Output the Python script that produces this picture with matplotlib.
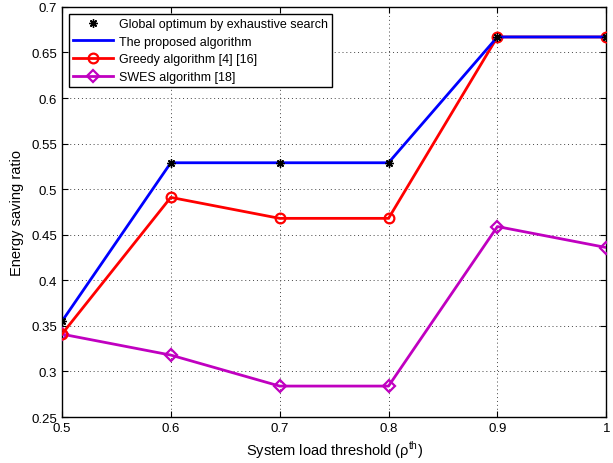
import matplotlib
matplotlib.use("Agg")
import matplotlib.pyplot as plt

# System load threshold values
thresholds = [0.5, 0.6, 0.7, 0.8, 0.9, 1.0]

# Energy saving ratios per scheme
global_optimum = [0.355, 0.529, 0.529, 0.529, 0.667, 0.667]
proposed = [0.355, 0.529, 0.529, 0.529, 0.667, 0.667]
greedy = [0.341, 0.491, 0.468, 0.468, 0.667, 0.667]
swes = [0.341, 0.318, 0.284, 0.284, 0.459, 0.436]

x_ticks = [0.5, 0.6, 0.7, 0.8, 0.9, 1.0]
x_tick_labels = ["0.5", "0.6", "0.7", "0.8", "0.9", "1"]
y_ticks = [0.25, 0.3, 0.35, 0.4, 0.45, 0.5, 0.55, 0.6, 0.65, 0.7]
y_tick_labels = ["0.25", "0.3", "0.35", "0.4", "0.45", "0.5", "0.55", "0.6", "0.65", "0.7"]

plt.rcParams["font.family"] = ["Liberation Sans", "DejaVu Sans"]
plt.rcParams["mathtext.fontset"] = "custom"
plt.rcParams["mathtext.rm"] = "Liberation Sans"

fig = plt.figure(figsize=(6.13, 4.64), dpi=100)
ax = fig.add_axes([0.101, 0.099, 0.888, 0.884])

ax.plot(thresholds, swes, color="#c000c0", lw=2.0, marker="D", ms=6,
        mfc="none", mec="#c000c0", mew=1.6, label="SWES algorithm [18]", zorder=3)
ax.plot(thresholds, greedy, color="#ff0000", lw=2.0, marker="o", ms=7,
        mfc="none", mec="#ff0000", mew=1.6, label="Greedy algorithm [4] [16]", zorder=4)
ax.plot(thresholds, proposed, color="#0000ff", lw=2.0,
        label="The proposed algorithm", zorder=5)
ax.plot(thresholds, global_optimum, ls="none", marker=(8, 2, 0), ms=6,
        mec="black", mew=1.0, color="black",
        label="Global optimum by exhaustive search", zorder=6)

ax.set_xlim(0.5, 1.0)
ax.set_ylim(0.25, 0.7)
ax.set_xticks(x_ticks)
ax.set_xticklabels(x_tick_labels)
ax.set_yticks(y_ticks)
ax.set_yticklabels(y_tick_labels)
ax.tick_params(direction="in", top=True, right=True, labelsize=9.5, length=4, width=0.8)
ax.grid(True, ls=(0, (1, 3)), color="#444444", lw=0.7)
for s in ax.spines.values():
    s.set_linewidth(1.0)

ax.set_xlabel("System load threshold (ρ$^{\\mathrm{th}}$)", fontsize=10.5, labelpad=3)
ax.set_ylabel("Energy saving ratio", fontsize=10.5, labelpad=5)

handles, labels = ax.get_legend_handles_labels()
order = [3, 2, 1, 0]
leg = ax.legend([handles[i] for i in order], [labels[i] for i in order],
                loc="upper left", bbox_to_anchor=(0.0, 1.0), fontsize=9,
                frameon=True, fancybox=False, edgecolor="black", framealpha=1,
                borderpad=0.3, labelspacing=0.45, handlelength=3.2,
                handletextpad=0.5, borderaxespad=0.6)
leg.get_frame().set_linewidth(1.0)

fig.savefig("out.png", dpi=100)
